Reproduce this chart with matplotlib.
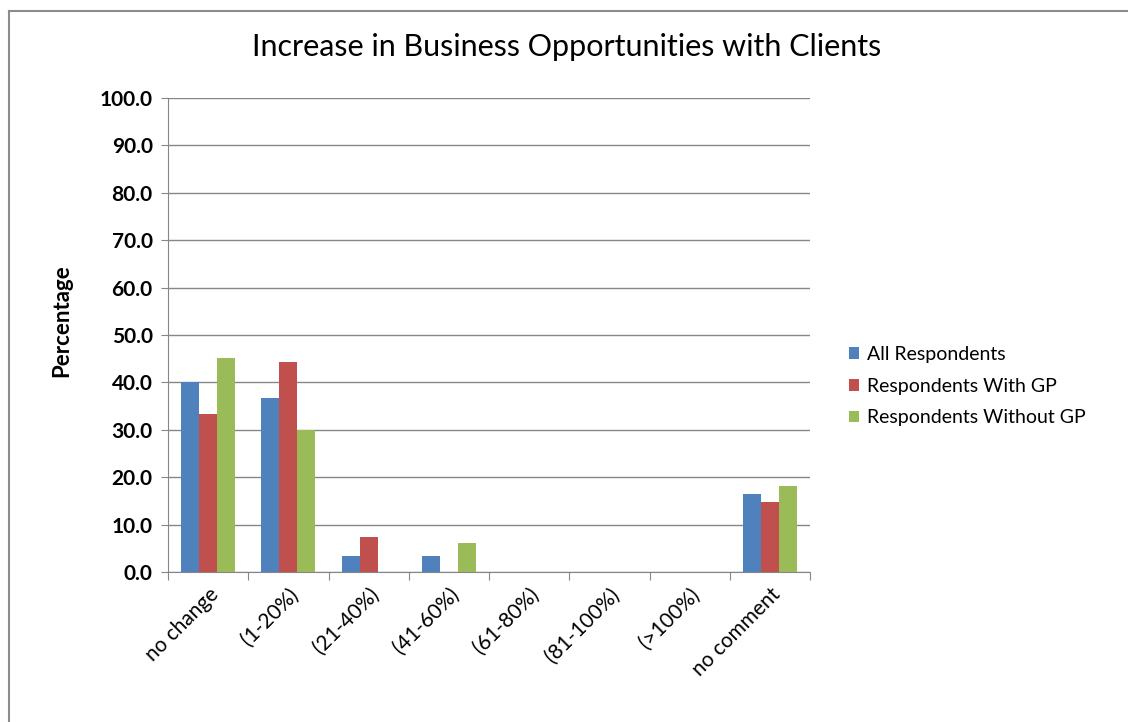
import numpy as np
import matplotlib.pyplot as plt
from matplotlib.lines import Line2D

plt.rcParams['font.family'] = ['Lato', 'DejaVu Sans']

categories = ["no change", "(1-20%)", "(21-40%)", "(41-60%)",
              "(61-80%)", "(81-100%)", "(>100%)", "no comment"]
all_resp = [40.0, 36.7, 3.3, 3.3, 0.0, 0.0, 0.0, 16.5]
with_gp = [33.3, 44.4, 7.4, 0.0, 0.0, 0.0, 0.0, 14.8]
without_gp = [45.2, 30.0, 0.0, 6.1, 0.0, 0.0, 0.0, 18.2]

series = [("All Respondents", all_resp, "#4F81BD"),
          ("Respondents With GP", with_gp, "#C0504D"),
          ("Respondents Without GP", without_gp, "#9BBB59")]

W, H = 1128, 722
fig = plt.figure(figsize=(W / 100, H / 100), dpi=100)
ax = fig.add_axes([168 / W, 1 - 572 / H, 642 / W, 474 / H])

# chart frame: only the left and top edges are in view
fig.lines.append(Line2D([9 / W, 9 / W], [0, 1 - 11 / H],
                        transform=fig.transFigure, color="#8c8c8c", lw=1.5))
fig.lines.append(Line2D([9 / W, 1], [1 - 11 / H, 1 - 11 / H],
                        transform=fig.transFigure, color="#8c8c8c", lw=1.5))

index = np.arange(len(categories))
width = 0.225
for i, (name, vals, color) in enumerate(series):
    ax.bar(index + (i - 1) * width, vals, width, color=color, label=name,
           zorder=3)

ax.set_xlim(-0.5, len(categories) - 0.5)
ax.set_ylim(0, 100)
ax.set_yticks(np.arange(0, 101, 10))
ax.set_yticklabels(["%.1f" % v for v in np.arange(0, 101, 10)],
                   fontsize=15, fontweight="bold")
ax.yaxis.grid(True, color="#868686", linewidth=1.0, zorder=0)

# ticks between categories, labels centred under them
ax.set_xticks(np.arange(-0.5, len(categories), 1.0))
ax.set_xticklabels([])
ax.set_xticks(index, minor=True)
ax.set_xticklabels(categories, minor=True, rotation=45, ha="right",
                   rotation_mode="anchor", fontsize=15)
ax.tick_params(axis="x", which="minor", length=0, pad=9)
ax.tick_params(axis="x", which="major", length=6, color="#868686")
ax.tick_params(axis="y", length=5, color="#868686", pad=6)

for side in ["top", "right"]:
    ax.spines[side].set_visible(False)
for side in ["left", "bottom"]:
    ax.spines[side].set_color("#868686")

ax.set_ylabel("Percentage", fontsize=16, fontweight="bold")
ax.yaxis.set_label_coords(-0.149, 0.53)
fig.text(567 / W, 1 - 47 / H, "Increase in Business Opportunities with Clients",
         ha="center", va="center", fontsize=22)

ax.legend(loc="center left", bbox_to_anchor=(1.045, 0.392), frameon=False,
          fontsize=14, handlelength=0.55, handleheight=0.55,
          handletextpad=0.4, labelspacing=0.75, borderpad=0)

fig.savefig("out.png", dpi=100)
